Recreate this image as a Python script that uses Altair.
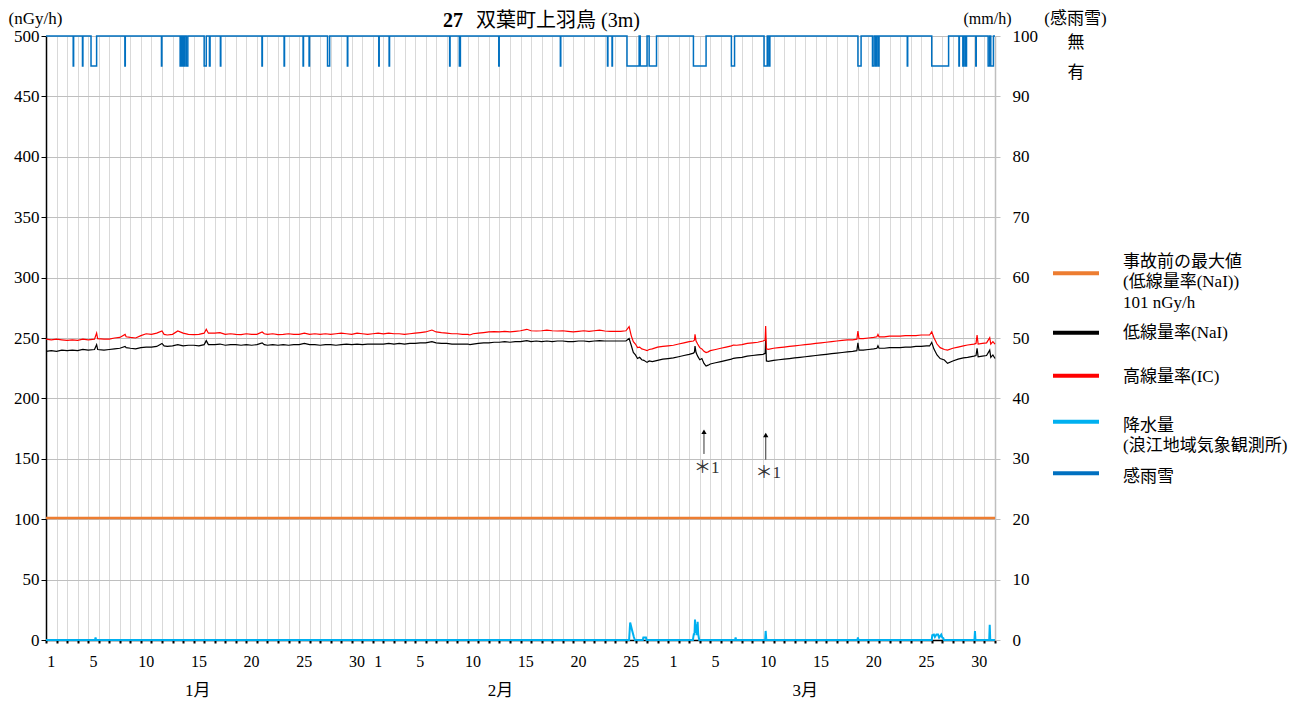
import altair as alt
import pandas as pd

FONT = "Liberation Serif, Noto Sans CJK JP"

# ---- dose rate series (t = days since Jan 1 00:00) ----
T = [0.0, 0.5, 1.0, 1.5, 2.0, 2.5, 3.0, 3.5, 4.0, 4.6, 4.8, 4.9, 5.5, 6.0, 6.5, 7.0, 7.5, 7.6, 8.0, 8.5,
     9.0, 9.5, 10.0, 10.5, 11.0, 11.2, 11.5, 12.0, 12.5, 13.0, 13.5, 14.0, 14.5, 15.0, 15.2, 15.4, 16.0, 16.5,
     17.0, 17.5, 18.0, 18.5, 19.0, 19.5, 20.0, 20.5, 20.7, 21.0, 21.5, 22.0, 22.5, 23.0, 23.5, 24.0, 24.5,
     25.0, 25.5, 26.0, 26.5, 27.0, 27.5, 28.0, 28.5, 29.0, 29.5, 30.0, 30.5, 31.0, 31.5, 32.0, 32.5, 33.0,
     33.5, 34.0, 34.5, 35.0, 35.5, 36.0, 36.6, 37.0, 37.5, 38.0, 38.5, 39.0, 39.5, 40.0, 40.2, 40.5, 41.0,
     41.5, 42.0, 42.5, 43.0, 43.5, 44.0, 44.5, 45.0, 45.6, 46.0, 46.5, 47.0, 47.5, 48.0, 48.5, 49.0, 49.5,
     50.0, 50.5, 51.0, 51.5, 52.0, 52.5, 53.0, 53.5, 54.0, 54.5, 55.0, 55.3, 55.5, 55.7, 55.9, 56.1, 56.3,
     56.5, 56.7, 57.0, 57.2, 57.5, 58.0, 58.5, 59.0, 59.5, 60.0, 60.5, 61.0, 61.4, 61.5, 61.55, 61.65, 61.8,
     62.0, 62.2, 62.4, 62.6, 62.8, 63.0, 63.5, 64.0, 64.5, 65.0, 65.2, 65.5, 66.0, 66.5, 67.0, 67.5, 68.0,
     68.2, 68.25, 68.32, 68.5, 69.0, 69.5, 70.0, 70.5, 71.0, 71.5, 72.0, 72.5, 73.0, 73.5, 74.0, 74.5, 75.0,
     75.5, 76.0, 76.5, 76.9, 77.0, 77.1, 77.5, 78.0, 78.5, 78.8, 78.9, 79.0, 79.5, 80.0, 80.5, 81.0, 81.5,
     82.0, 82.5, 83.0, 83.5, 83.8, 84.0, 84.2, 84.5, 84.8, 85.2, 85.5, 86.0, 86.5, 87.0, 87.4, 88.0, 88.2,
     88.3, 88.4, 88.8, 89.2, 89.5, 89.6, 89.8, 90.0]
NAI = [239.0, 239.5, 239.0, 240.0, 239.5, 240.0, 239.5, 240.5, 240.0, 240.5, 244.5, 240.5, 240.0, 240.5, 241.0,
       241.5, 243.0, 242.0, 241.5, 241.0, 242.0, 242.5, 242.5, 243.0, 245.5, 243.5, 243.0, 243.5, 244.5, 243.5,
       244.0, 244.0, 243.5, 244.5, 247.8, 244.5, 244.5, 245.0, 244.0, 244.5, 244.5, 244.0, 244.5, 244.0, 244.5,
       246.0, 244.5, 244.0, 244.5, 244.0, 244.5, 244.0, 244.5, 244.5, 245.5, 244.5, 244.5, 244.0, 244.5, 244.5,
       244.0, 244.5, 245.0, 244.5, 245.0, 244.5, 245.0, 245.0, 245.0, 245.0, 245.5, 245.0, 245.5, 245.0, 245.5,
       245.5, 246.0, 246.0, 247.0, 246.0, 245.5, 245.5, 245.0, 245.0, 245.0, 245.0, 244.5, 245.0, 245.5, 246.0,
       246.0, 246.5, 246.5, 247.0, 246.5, 247.0, 247.0, 247.8, 247.0, 247.5, 247.0, 247.5, 247.0, 247.5, 247.5,
       247.0, 247.0, 247.5, 247.5, 247.0, 247.5, 247.8, 247.5, 247.5, 247.5, 247.5, 247.5, 249.5, 244.0, 238.0,
       236.0, 233.0, 234.0, 232.0, 231.5, 229.8, 231.0, 230.5, 231.5, 232.5, 233.0, 233.5, 234.5, 235.5, 236.5,
       237.5, 238.5, 243.4, 238.0, 235.0, 232.0, 233.0, 229.0, 226.8, 227.5, 228.5, 229.5, 230.5, 231.5, 232.5,
       233.2, 233.5, 234.0, 235.0, 235.5, 236.0, 236.5, 237.3, 249.0, 231.0, 230.7, 231.5, 232.0, 232.5, 233.0,
       233.5, 234.0, 234.5, 235.0, 235.5, 236.0, 236.5, 237.0, 237.5, 238.0, 238.5, 239.0, 239.5, 246.0, 240.0,
       240.0, 240.5, 241.0, 241.5, 243.5, 241.5, 241.5, 242.0, 242.0, 242.0, 242.5, 242.5, 243.0, 243.0, 243.5,
       243.4, 246.4, 241.0, 236.0, 233.0, 231.8, 229.0, 231.0, 232.5, 233.5, 234.0, 235.0, 235.5, 241.5, 234.5,
       235.0, 235.5, 240.0, 234.0, 236.0, 233.0]
IC = [249.0, 248.5, 249.0, 248.5, 248.0, 248.5, 248.0, 249.0, 248.5, 249.0, 254.0, 249.5, 249.0, 249.0, 250.0,
      250.5, 253.0, 251.0, 250.5, 250.0, 252.0, 253.5, 253.0, 254.0, 255.8, 253.0, 252.5, 253.0, 255.8, 254.0,
      253.0, 252.8, 253.0, 254.0, 257.2, 254.0, 254.0, 254.4, 253.0, 253.5, 253.0, 252.8, 253.5, 253.0, 253.0,
      255.0, 253.5, 253.0, 253.5, 252.8, 253.0, 253.5, 253.0, 253.0, 254.0, 253.0, 253.5, 253.0, 253.5, 253.0,
      253.5, 254.0, 253.5, 253.0, 254.0, 253.5, 253.0, 253.5, 254.0, 253.5, 254.0, 253.5, 253.5, 253.0, 253.5,
      254.0, 254.5, 255.0, 256.6, 255.0, 254.4, 254.0, 253.5, 253.5, 253.0, 253.0, 252.5, 253.5, 254.0, 254.5,
      255.0, 255.2, 255.0, 255.5, 255.0, 255.5, 256.0, 257.2, 256.0, 255.8, 256.0, 256.5, 256.0, 255.8, 256.0,
      255.5, 255.0, 255.5, 256.0, 255.5, 256.0, 256.5, 255.8, 255.5, 255.5, 255.5, 256.0, 259.4, 252.0, 247.0,
      245.0, 242.0, 242.5, 241.0, 240.5, 239.5, 240.5, 241.0, 242.5, 243.0, 243.5, 244.0, 245.0, 246.0, 247.0,
      247.5, 248.3, 253.0, 247.5, 245.0, 242.0, 241.0, 239.0, 237.9, 238.5, 239.5, 240.5, 241.5, 242.5, 243.5,
      244.2, 244.0, 244.5, 245.5, 246.0, 246.5, 247.5, 248.3, 260.0, 241.0, 240.6, 241.5, 242.0, 242.5, 243.0,
      243.5, 244.0, 244.5, 245.0, 245.5, 246.0, 246.5, 247.0, 247.5, 248.0, 248.5, 248.5, 249.0, 255.8, 249.5,
      249.5, 250.0, 250.5, 251.0, 253.0, 251.0, 251.0, 251.5, 251.5, 251.5, 252.0, 252.0, 252.0, 252.5, 252.5,
      252.5, 255.2, 250.5, 245.0, 242.0, 240.5, 240.0, 241.5, 242.5, 243.5, 244.2, 245.0, 245.5, 252.5, 245.0,
      245.5, 246.0, 250.3, 245.0, 247.0, 245.0]

PREACCIDENT_MAX = 101

# ---- precipitation (mm/h) ----
RAIN_T = [0.0, 4.65, 4.7, 4.75, 54.9, 55.3, 55.4, 55.5, 55.6, 55.75, 55.85, 56.6, 56.65, 56.9, 56.95,
          61.35, 61.4, 61.45, 61.5, 61.55, 61.6, 61.65, 61.7, 61.75, 61.8, 61.85, 61.9, 61.95,
          65.35, 65.4, 65.45, 68.2, 68.25, 68.3, 68.35, 76.95, 77.0, 77.05,
          84.0, 84.05, 84.2, 84.3, 84.45, 84.6, 84.7, 84.9, 85.0, 85.1, 85.15,
          88.05, 88.1, 88.15, 89.45, 89.5, 89.55, 90.0]
RAIN_V = [0.0, 0.0, 0.4, 0.0, 0.0, 0.0, 2.9, 2.2, 1.5, 0.5, 0.0, 0.0, 0.4, 0.4, 0.0,
          0.0, 0.6, 1.1, 0.8, 3.4, 1.7, 1.2, 2.6, 0.8, 3.0, 1.0, 0.5, 0.0,
          0.0, 0.4, 0.0, 0.0, 1.5, 0.3, 0.0, 0.0, 0.4, 0.0,
          0.0, 0.8, 0.9, 0.5, 0.9, 0.9, 0.4, 0.9, 0.4, 0.3, 0.0,
          0.0, 1.5, 0.0, 0.0, 2.5, 0.0, 0.0]

# ---- rain/snow sensor: periods with "有" ----
SENSE_ON = [2.58, 3.46, 4.27, 7.48, 10.95, 12.72, 12.85, 13.05, 13.3, 15.0, 15.5, 16.54, 20.48, 22.58,
            24.38, 24.95, 26.7, 28.58, 31.56, 32.54, 38.28, 39.2, 42.94, 48.78, 53.25, 53.68, 55.1, 56.35,
            57.2, 61.4, 65.0, 68.1, 68.55, 77.0, 78.38, 78.69, 78.93, 81.68, 84.0, 86.58, 86.95, 87.2,
            88.18, 89.35, 89.6]
SENSE_OFF = [2.62, 3.5, 4.8, 7.52, 10.99, 12.8, 12.95, 13.15, 13.45, 15.2, 15.56, 16.58, 20.52, 22.62,
             24.42, 24.99, 26.9, 28.62, 31.6, 32.58, 38.32, 39.3, 42.98, 48.82, 53.29, 53.72, 56.25, 57.0,
             57.9, 62.6, 65.3, 68.4, 68.65, 77.3, 78.54, 78.78, 79.0, 81.72, 85.6, 86.62, 87.05, 87.3,
             88.22, 89.5, 89.85]

# ---- annotations ----
ANNOT_T = [62.4, 68.26]
ANNOT_BOTTOM = [154.0, 149.3]
ANNOT_TOP = [172.4, 169.7]
ANNOT_LABEL_T = [62.66, 68.5]
ANNOT_LABEL_V = [142.4, 138.2]
ANNOT_LABEL = ["＊1", "＊1"]

# ---- axis labels ----
MONTHS = ["1月", "2月", "3月"]
MONTH_DAYS = [31, 28, 31]
DAY_LABELS = [[1, 5, 10, 15, 20, 25, 30], [1, 5, 10, 15, 20, 25], [1, 5, 10, 15, 20, 25, 30]]
MONTH_LABEL_T = [14.4, 43.1, 72.0]

LEGEND_LABELS = [["事故前の最大値", "(低線量率(NaI))", "101 nGy/h"], ["低線量率(NaI)"], ["高線量率(IC)"],
                 ["降水量", "(浪江地域気象観測所)"], ["感雨雪"]]
LEGEND_COLORS = ["#ed7d31", "#000000", "#ff0000", "#00b0f0", "#0070c0"]

TITLE_NUM = "27"
TITLE_TEXT = "双葉町上羽鳥 (3m)"

# ---------------- build tables ----------------
dose = pd.DataFrame({"t": T, "nai": NAI, "ic": IC})
rain = pd.DataFrame({"t": RAIN_T, "mm": RAIN_V})
st, sv = [0.0], [0]
for a, b in zip(SENSE_ON, SENSE_OFF):
    st += [a, b]
    sv += [1, 0]
st.append(90.0)
sv.append(0)
sense = pd.DataFrame({"t": st, "s": sv})

offsets = [0, 31, 59]
day_rows = []
for off, days in zip(offsets, DAY_LABELS):
    for d in days:
        day_rows.append({"t": off + d - 0.5, "label": str(d)})
day_df = pd.DataFrame(day_rows)
month_df = pd.DataFrame({"t": MONTH_LABEL_T, "label": MONTHS})
annot = pd.DataFrame({"t": ANNOT_T, "v": ANNOT_BOTTOM, "v2": ANNOT_TOP})
annot_lab = pd.DataFrame({"t": ANNOT_LABEL_T, "v": ANNOT_LABEL_V, "label": ANNOT_LABEL})

W, H = 949, 604

x_axis = alt.Axis(values=list(range(91)), grid=True, gridColor="#d9d9d9", gridWidth=1, labels=False,
                  ticks=True, tickSize=3, tickWidth=2, tickColor="black", domainColor="black",
                  domainWidth=1.5, title=None, zindex=0)
X = alt.X("t:Q", scale=alt.Scale(domain=[0, 90], nice=False, zero=False), axis=x_axis)

left_scale = alt.Scale(domain=[0, 500], nice=False, zero=False)
left_axis = alt.Axis(values=list(range(0, 501, 50)), grid=True, gridColor="#bfbfbf", gridWidth=1.2,
                     domainColor="black", domainWidth=1.5, tickColor="black", tickSize=5,
                     labelFont=FONT, labelFontSize=17, labelColor="black", labelPadding=2,
                     title="(nGy/h)", titleAngle=0, titleX=-38, titleY=-18, titleAlign="left",
                     titleBaseline="middle", titleFont=FONT, titleFontSize=17, titleFontWeight="normal",
                     titleColor="black")
Y = alt.Y("v:Q", scale=left_scale, axis=left_axis)

lines = alt.Chart(dose).transform_fold(["nai", "ic"], as_=["series", "v"]).mark_line(
    strokeWidth=1.2).encode(
    x=X, y=Y,
    color=alt.Color("series:N", scale=alt.Scale(domain=["nai", "ic"], range=["#000000", "#ff0000"]),
                    legend=None),
    detail="series:N")

orange = alt.Chart(pd.DataFrame({"v": [PREACCIDENT_MAX]})).mark_rule(
    color="#ed7d31", strokeWidth=2.5).encode(y=Y)

arrows = alt.Chart(annot).mark_rule(color="#333333", strokeWidth=1).encode(x=X, y=Y, y2="v2:Q")
heads = alt.Chart(annot).mark_point(shape="triangle-up", filled=True, size=28, color="black",
                                    opacity=1).encode(x=X, y=alt.Y("v2:Q", scale=left_scale, axis=left_axis))
annot_text = alt.Chart(annot_lab).mark_text(font=FONT, fontSize=17, color="#333333",
                                            baseline="middle").encode(x=X, y=Y, text="label:N")

day_text = alt.Chart(day_df).mark_text(font=FONT, fontSize=16, color="black", baseline="middle").encode(
    x=X, y=alt.value(H + 22), text="label:N")
month_text = alt.Chart(month_df).mark_text(font=FONT, fontSize=17, color="black",
                                           baseline="middle").encode(
    x=X, y=alt.value(H + 51), text="label:N")

one = pd.DataFrame({"k": [0]})
title_num = alt.Chart(one).mark_text(font=FONT, fontSize=20, fontWeight="bold", align="right",
                                     baseline="middle", color="black").encode(
    x=alt.value(417), y=alt.value(-15), text=alt.value(TITLE_NUM))
title_rest = alt.Chart(one).mark_text(font=FONT, fontSize=20, align="left", baseline="middle",
                                      color="black").encode(
    x=alt.value(430), y=alt.value(-15), text=alt.value(TITLE_TEXT))

legend_layers = []
swatch_y = [237.3, 296.7, 339.7, 385.7, 437.3]
label_y = [225.7, 297.3, 340.7, 389.7, 440.7]
for lines_txt, col, sy, ly in zip(LEGEND_LABELS, LEGEND_COLORS, swatch_y, label_y):
    legend_layers.append(alt.Chart(one).mark_rule(color=col, strokeWidth=4).encode(
        x=alt.value(1007), x2=alt.value(1053), y=alt.value(sy)))
    for i, txt in enumerate(lines_txt):
        legend_layers.append(alt.Chart(one).mark_text(font=FONT, fontSize=17, align="left",
                                                      baseline="middle", color="black").encode(
            x=alt.value(1077), y=alt.value(ly + i * 20.5), text=alt.value(txt)))

inner = alt.layer(lines, orange, arrows, heads, annot_text, day_text, month_text, title_num, title_rest,
                  *legend_layers)

rain_layer = alt.Chart(rain).mark_line(color="#00b0f0", strokeWidth=2).encode(
    x=X,
    y=alt.Y("mm:Q", scale=alt.Scale(domain=[0, 100], nice=False, zero=False),
            axis=alt.Axis(orient="right", values=list(range(0, 101, 10)), grid=False,
                          domainColor="#bfbfbf", domainWidth=1.5, tickColor="#bfbfbf", tickSize=5,
                          labelFont=FONT, labelFontSize=17, labelColor="black", labelPadding=12,
                          title="(mm/h)", titleAngle=0, titleX=-8, titleY=-18, titleAlign="center",
                          titleBaseline="middle", titleFont=FONT, titleFontSize=16,
                          titleFontWeight="normal", titleColor="black")))

sense_layer = alt.Chart(sense).mark_line(color="#0070c0", strokeWidth=1.5, interpolate="step-after").encode(
    x=X,
    y=alt.Y("s:Q", scale=alt.Scale(domain=[0, 1], range=[0, 30], nice=False, zero=False),
            axis=alt.Axis(orient="right", offset=72, values=[0, 1],
                          labelExpr="datum.value == 0 ? '無' : '有'", domain=False, ticks=False,
                          tickSize=0, grid=False, labelPadding=0, labelOffset=6, labelBaseline="middle",
                          labelFont=FONT, labelFontSize=17, labelColor="black",
                          title="(感雨雪)", titleAngle=0, titleX=8, titleY=-18, titleAlign="center",
                          titleBaseline="middle", titleFont=FONT, titleFontSize=17,
                          titleFontWeight="normal", titleColor="black")))

chart = alt.layer(inner, rain_layer, sense_layer).resolve_scale(y="independent").properties(
    width=W, height=H,
    padding={"left": 38, "top": 28, "right": 305, "bottom": 60},
    autosize=alt.AutoSizeParams(type="none"),
    background="white",
).configure_view(stroke=None)

chart.save("out.html", embed_options={"renderer": "svg", "actions": False})
